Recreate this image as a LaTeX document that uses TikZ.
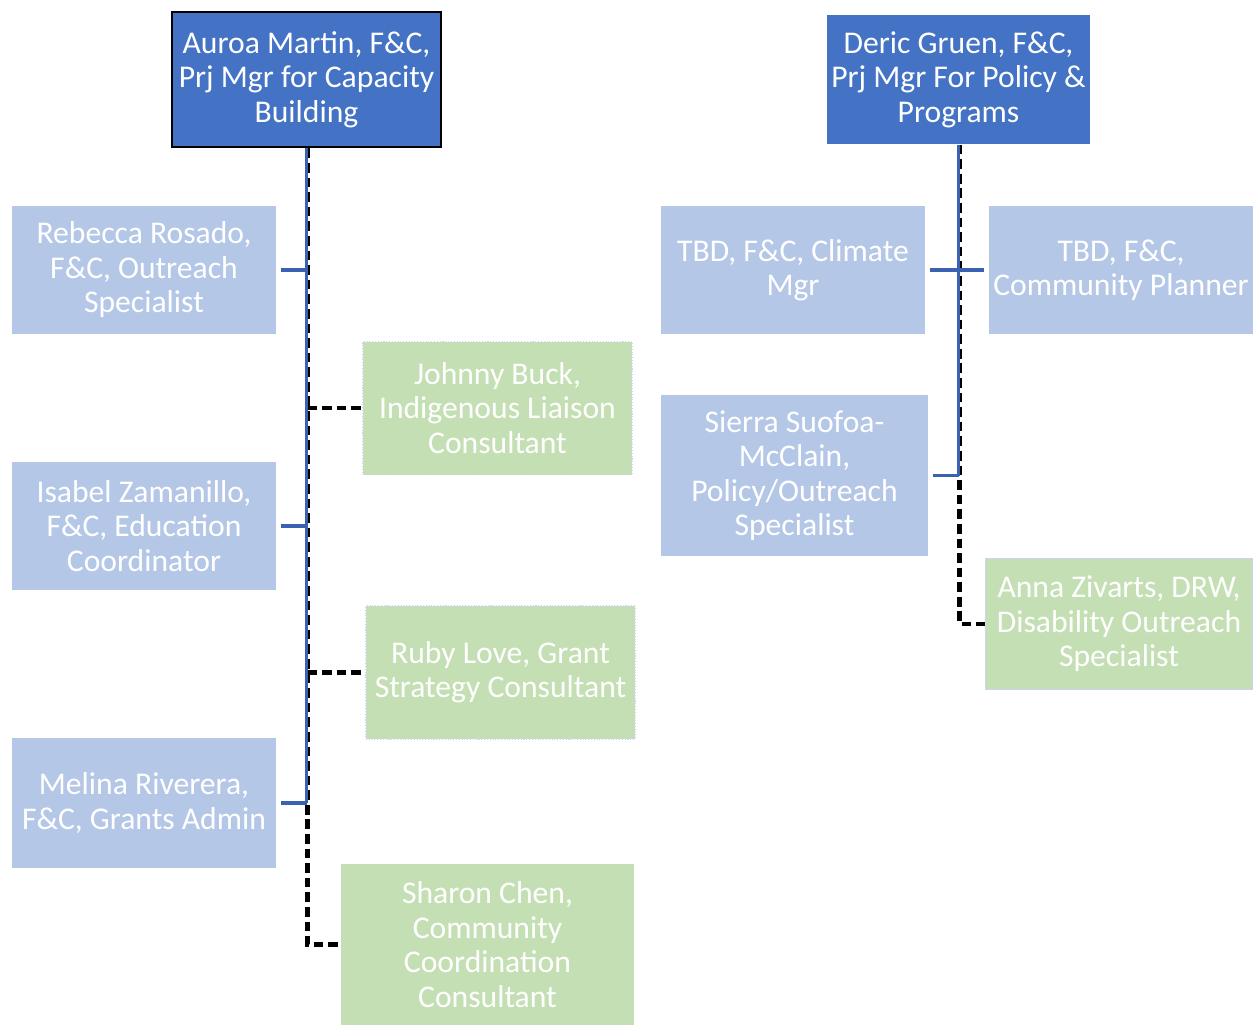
\documentclass[tikz,border=0pt]{standalone}
\usepackage{fontspec}
\setmainfont{Carlito}
\usepackage{xcolor}
\usepackage{tikz}
\usetikzlibrary{shapes,arrows}
\definecolor{leadBlue}{HTML}{4472C4}
\definecolor{staffBlue}{HTML}{B4C7E7}
\definecolor{consultGreen}{HTML}{C5DFB4}
\definecolor{linkBlue}{HTML}{3A62B0}
\definecolor{edgeBlue}{HTML}{C9D6EE}
\tikzstyle{solidLink} = [draw, linkBlue, line width=2pt]
\tikzstyle{dashLink} = [draw, black, line width=2.3pt, dash pattern=on 5.5pt off 2.8pt]
\tikzstyle{leadBlock} = [draw=none, rectangle, fill=leadBlue, text=white, align=center,
    inner sep=0pt, font=\fontsize{18}{19.6}\selectfont]
\tikzstyle{staffBlock} = [draw=none, rectangle, fill=staffBlue, text=white, align=center,
    inner sep=0pt, minimum width=5.28cm, minimum height=2.56cm, font=\fontsize{18}{19.6}\selectfont]
\tikzstyle{consultBlock} = [draw=none, rectangle, fill=consultGreen, text=white, align=center,
    inner sep=0pt, minimum width=5.38cm, minimum height=2.66cm, font=\fontsize{18}{19.6}\selectfont]
\begin{document}
\begin{tikzpicture}[node distance = 2cm, auto, thick]
      \useasboundingbox (0,0) rectangle (25.08,-20.5);
      % Place nodes
      \node [leadBlock, draw=black, line width=1.7pt, minimum width=5.38cm, minimum height=2.7cm] at (6.13,-1.59) (auroa) {Auroa Martin, F\&C,\\Prj Mgr for Capacity\\Building};
      \node [leadBlock, minimum width=5.26cm, minimum height=2.58cm] at (19.17,-1.59) (deric) {Deric Gruen, F\&C,\\Prj Mgr For Policy \&\\Programs};

      \node [staffBlock] at (2.88,-5.4) (rebecca) {Rebecca Rosado,\\F\&C, Outreach\\Specialist};
      \node [staffBlock, below of=rebecca, node distance=5.12cm] (isabel) {Isabel Zamanillo,\\F\&C, Education\\Coordinator};
      \node [staffBlock, below of=isabel, node distance=5.54cm, minimum height=2.6cm] (melina) {Melina Riverera,\\F\&C, Grants Admin};

      \node [consultBlock, draw=edgeBlue, densely dotted, line width=0.6pt] at (9.95,-8.16) (johnny) {Johnny Buck,\\Indigenous Liaison\\Consultant};
      \node [consultBlock, draw=edgeBlue, densely dotted, line width=0.6pt, below of=johnny, node distance=5.29cm, xshift=0.06cm] (ruby) {Ruby Love, Grant\\Strategy Consultant};
      \node [consultBlock, minimum width=5.86cm, minimum height=3.22cm] at (9.75,-18.89) (sharon) {Sharon Chen,\\Community\\Coordination\\Consultant};

      \node [staffBlock, right of=rebecca, node distance=12.98cm] (climate) {TBD, F\&C, Climate\\Mgr};
      \node [staffBlock, right of=climate, node distance=6.56cm] (planner) {TBD, F\&C,\\Community Planner};
      \node [staffBlock, below of=climate, node distance=4.11cm, xshift=0.03cm, minimum width=5.34cm, minimum height=3.22cm] (sierra) {Sierra Suofoa-\\McClain,\\Policy/Outreach\\Specialist};
      \node [consultBlock, draw=edgeBlue, line width=1pt, minimum width=5.34cm, minimum height=2.62cm] at (22.38,-12.48) (anna) {Anna Zivarts, DRW,\\Disability Outreach\\Specialist};

      % Dotted-line reports
      \path [dashLink] ([xshift=0.02cm]auroa.south) |- (sharon.west);
      \path [dashLink] ([xshift=0.02cm]auroa.south |- johnny.west) -- (johnny.west);
      \path [dashLink] ([xshift=0.02cm]auroa.south |- ruby.west) -- (ruby.west);
      \path [dashLink] ([xshift=0.02cm]deric.south) |- (anna.west);

      % Direct reports
      \path [solidLink] (auroa.south) -- (auroa.south |- melina.east);
      \path [solidLink, shorten <=0.08cm] (rebecca.east) -- (auroa.south |- rebecca.east);
      \path [solidLink, shorten <=0.08cm] (isabel.east) -- (auroa.south |- isabel.east);
      \path [solidLink, shorten <=0.08cm] (melina.east) -- (auroa.south |- melina.east);
      \path [solidLink] (deric.south) -- (deric.south |- sierra.east);
      \path [solidLink, shorten <=0.08cm, shorten >=0.08cm] (climate.east) -- (planner.west);
      \path [solidLink, shorten <=0.08cm] (sierra.east) -- (deric.south |- sierra.east);

  \end{tikzpicture}
\end{document}
